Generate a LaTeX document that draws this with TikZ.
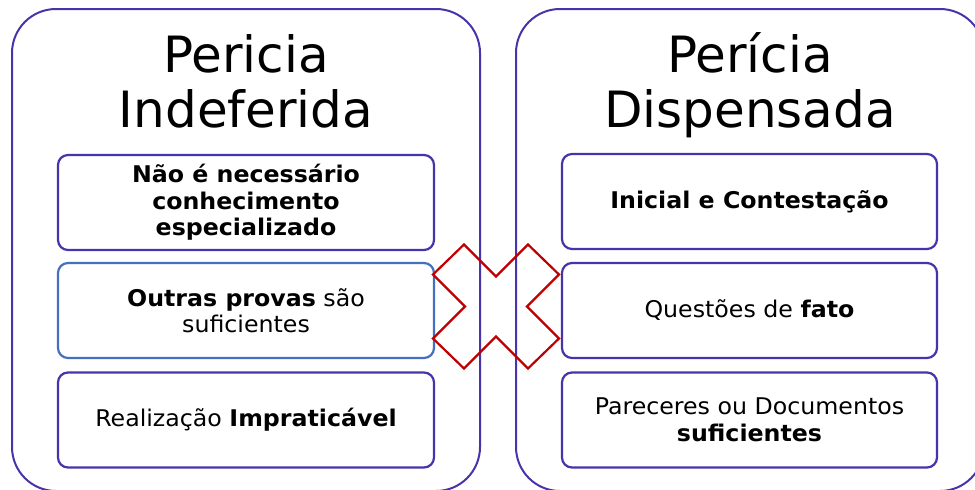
\documentclass[tikz,border=0pt]{standalone}
\usepackage{fontspec}
\setmainfont{DejaVu Sans}
\newfontfamily\boxfont[FakeStretch=1.03]{DejaVu Sans}
\definecolor{frame}{RGB}{72,52,170}
\definecolor{bluebox}{RGB}{70,112,190}
\definecolor{xred}{RGB}{192,0,0}
\tikzset{
  panel/.style={draw=frame, line width=2pt, rounded corners=44pt, minimum width=468pt, minimum height=482pt, inner sep=0pt},
  titletext/.style={font=\fontsize{50}{55}\selectfont, align=center, inner sep=0pt, anchor=north},
  itembox/.style={draw=frame, line width=2.2pt, rounded corners=10pt, minimum width=376pt, minimum height=95pt, inner sep=0pt, align=center, font=\boxfont\fontsize{23}{26.5}\selectfont},
  crossmark/.style={draw=xred, line width=2.2pt, line join=miter}
}
\begin{document}
\begin{tikzpicture}[x=1pt,y=-1pt]
\useasboundingbox (0,0) rectangle (975,490);
\clip (0,0) rectangle (975,490);
\fill[white] (0,0) rectangle (975,490);
% panels
\node[panel] (L) at (246,250) {};
\node[panel] (R) at (750,250) {};
% titles
\node[titletext] (Lt) at (246,34) {Pericia\\Indeferida};
\node[titletext] (Rt) at (750,32) {Perícia\\Dispensada};
% left boxes
\node[itembox] (L1) at (246,202.5) {\textbf{Não é necessário}\\\textbf{conhecimento}\\\textbf{especializado}};
\node[itembox, draw=bluebox] (L2) at (246,310.5) {\textbf{Outras provas} são\\suficientes};
\node[itembox] (L3) at (246,420) {Realização \textbf{Impraticável}};
% right boxes
\node[itembox, minimum width=375pt] (R1) at (749.5,201.5) {\textbf{Inicial e Contestação}};
\node[itembox, minimum width=375pt] (R2) at (749.5,310.5) {Questões de \textbf{fato}};
\node[itembox, minimum width=375pt] (R3) at (749.5,420) {Pareceres ou Documentos\\\textbf{suficientes}};
% cross
\coordinate (X) at (496,306.5);
\draw[crossmark, shift={(X)}] (-32,-62) -- (0,-30) -- (32,-62) -- (63,-32) -- (31,0) -- (63,32) -- (32,62) -- (0,30) -- (-32,62) -- (-63,32) -- (-31,0) -- (-63,-32) -- cycle;
\end{tikzpicture}
\end{document}
